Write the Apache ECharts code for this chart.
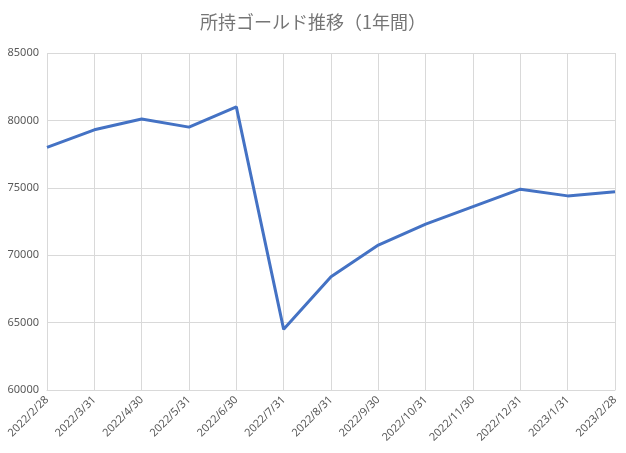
<!DOCTYPE html>
<html><head><meta charset="utf-8">
<script src="https://cdn.jsdelivr.net/npm/echarts@6/dist/echarts.min.js"></script>
<style>html,body{margin:0;padding:0;background:#fff}#c{width:626px;height:453px}</style>
</head><body><div id="c"></div>
<script>
const categories=["2022/2/28","2022/3/31","2022/4/30","2022/5/31","2022/6/30","2022/7/31","2022/8/31","2022/9/30","2022/10/31","2022/11/30","2022/12/31","2023/1/31","2023/2/28"];
const gold=[78000,79300,80100,79500,81000,64500,68400,70750,72300,73600,74900,74400,74700];
const chart=echarts.init(document.getElementById('c'));
chart.setOption({
  title:{text:"所持ゴールド推移（1年間）",left:'center',top:8,textStyle:{color:'#757575',fontSize:18,fontWeight:'normal',fontFamily:'Noto Sans CJK JP'}},
  grid:{left:47,right:11,top:53,bottom:63},
  xAxis:{type:'category',data:categories,boundaryGap:false,
    axisLine:{lineStyle:{color:'#d9d9d9'}},axisTick:{show:false},
    splitLine:{show:true,lineStyle:{color:'#d9d9d9'}},
    axisLabel:{rotate:45,color:'#595959',fontSize:11,interval:0,fontFamily:'Noto Sans'}},
  yAxis:{type:'value',min:60000,max:85000,interval:5000,
    axisLine:{show:false},axisTick:{show:false},
    splitLine:{lineStyle:{color:'#d9d9d9'}},
    axisLabel:{color:'#595959',fontSize:11,fontFamily:'Noto Sans',formatter:v=>String(v)}},
  series:[{type:'line',data:gold,symbol:'none',lineStyle:{color:'#4472c4',width:3}}],
  animation:false
});
</script></body></html>
